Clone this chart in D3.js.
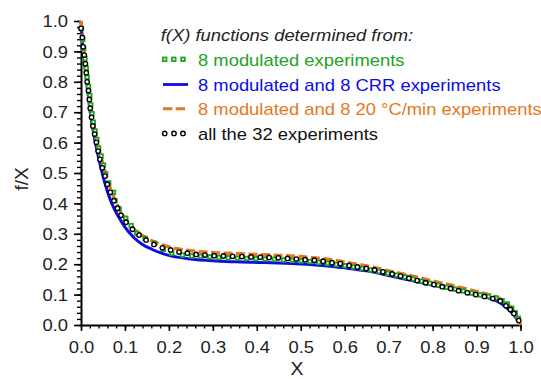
<!DOCTYPE html>
<html>
<head>
<meta charset="utf-8">
<script src="https://cdn.jsdelivr.net/npm/d3@7"></script>
<style>
  body { margin: 0; background: #fff; }
  svg { display: block; font-family: "Liberation Sans", Arial, sans-serif; }
</style>
</head>
<body>
<svg id="chart" width="541" height="379"></svg>
<script>
// f(X) from all the 32 experiments (circles)
const circX = [0.000,0.003,0.005,0.0075,0.010,0.012,0.014,0.017,0.019,0.021,0.024,0.027,0.031,0.035,0.039,0.043,0.0486,0.0547,0.060,0.0668,0.075,0.083,0.091,0.1025,0.117,0.132,0.148,0.166,0.185,0.204,0.223,0.242,0.262,0.282,0.303,0.324,0.345,0.366,0.387,0.408,0.428,0.449,0.470,0.490,0.510,0.531,0.551,0.571,0.590,0.610,0.629,0.649,0.668,0.687,0.708,0.727,0.746,0.765,0.784,0.803,0.822,0.841,0.859,0.879,0.898,0.918,0.937,0.954,0.967,0.977,0.985,0.996];
const circY = [0.976,0.946,0.915,0.888,0.859,0.830,0.800,0.771,0.742,0.713,0.683,0.655,0.628,0.601,0.572,0.545,0.517,0.490,0.463,0.4365,0.409,0.384,0.361,0.338,0.315,0.296,0.280,0.265,0.254,0.247,0.240,0.236,0.232,0.230,0.228,0.227,0.226,0.225,0.224,0.223,0.222,0.221,0.219,0.217,0.215,0.213,0.210,0.205,0.202,0.196,0.191,0.186,0.181,0.175,0.168,0.161,0.154,0.146,0.139,0.133,0.126,0.120,0.113,0.106,0.100,0.094,0.087,0.079,0.063,0.051,0.038,0.015];

// 8 modulated experiments (squares)
const sqX = [0.001,0.004,0.006,0.009,0.012,0.014,0.017,0.020,0.022,0.025,0.028,0.032,0.036,0.040,0.0456,0.051,0.056,0.063,0.0737,0.0774,0.0866,0.1018,0.114,0.127,0.146,0.167,0.1875,0.2065,0.231,0.252,0.272,0.293,0.314,0.335,0.356,0.377,0.398,0.419,0.440,0.461,0.481,0.501,0.521,0.541,0.561,0.581,0.601,0.620,0.640,0.659,0.678,0.698,0.718,0.737,0.756,0.775,0.794,0.813,0.832,0.851,0.870,0.889,0.908,0.927,0.944,0.958,0.970,0.980,0.988,0.995];
const sqY = [0.975,0.940,0.910,0.876,0.845,0.815,0.785,0.755,0.725,0.695,0.667,0.638,0.610,0.582,0.556,0.526,0.497,0.467,0.4365,0.409,0.382,0.351,0.327,0.302,0.285,0.269,0.249,0.236,0.230,0.227,0.226,0.224,0.222,0.221,0.220,0.219,0.218,0.217,0.216,0.214,0.213,0.211,0.209,0.206,0.203,0.199,0.195,0.191,0.186,0.181,0.176,0.170,0.164,0.158,0.151,0.144,0.137,0.131,0.124,0.118,0.112,0.105,0.099,0.094,0.089,0.080,0.069,0.055,0.040,0.022];

// 8 modulated and 8 CRR experiments (solid blue)
const blueX = [0,0.005,0.01,0.02,0.03,0.04,0.05,0.06,0.07,0.08,0.09,0.10,0.12,0.14,0.16,0.18,0.20,0.25,0.30,0.35,0.40,0.45,0.50,0.55,0.60,0.65,0.70,0.75,0.80,0.85,0.90,0.93,0.95,0.97,0.985,1.0];
const blueY = [1.0,0.90,0.84,0.71,0.62,0.55,0.49,0.44,0.40,0.37,0.345,0.322,0.288,0.265,0.250,0.238,0.229,0.217,0.211,0.208,0.206,0.204,0.201,0.196,0.188,0.178,0.163,0.147,0.131,0.116,0.100,0.088,0.076,0.055,0.033,0.0];

// 8 modulated and 8 20 °C/min experiments (dashed orange)
const orangeX = [0,0.005,0.01,0.015,0.02,0.025,0.03,0.04,0.05,0.06,0.07,0.08,0.09,0.10,0.12,0.14,0.16,0.18,0.20,0.25,0.30,0.35,0.40,0.45,0.50,0.55,0.60,0.65,0.70,0.75,0.80,0.85,0.90,0.93,0.95,0.97,0.985,1.0];
const orangeY = [1.0,0.92,0.865,0.80,0.745,0.695,0.65,0.585,0.528,0.478,0.437,0.402,0.374,0.351,0.316,0.294,0.278,0.266,0.257,0.244,0.238,0.235,0.232,0.229,0.225,0.218,0.207,0.194,0.178,0.162,0.145,0.128,0.110,0.099,0.089,0.069,0.042,0.0];

const xTicks = [0,0.1,0.2,0.3,0.4,0.5,0.6,0.7,0.8,0.9,1.0];
const yTicks = [0,0.1,0.2,0.3,0.4,0.5,0.6,0.7,0.8,0.9,1.0];

const legendNames = ["8 modulated experiments", "8 modulated and 8 CRR experiments",
                     "8 modulated and 8 20 °C/min experiments", "all the 32 experiments"];

const green = "#22a322", blue = "#0c0ce8", orange = "#e8771c";
const SX = 1.15; // the picture's text is stretched a bit horizontally

const svg = d3.select("#chart");
svg.append("rect").attr("width", 541).attr("height", 379).attr("fill", "#fff");

const x = d3.scaleLinear().domain([0, 1]).range([81, 520.5]);
const y = d3.scaleLinear().domain([0, 1]).range([325, 21]);

// minor ticks
svg.append("g").attr("transform", "translate(0,325)")
  .call(d3.axisBottom(x).tickValues(d3.range(0, 51).map(i => i / 50)).tickSize(3.5).tickFormat(""))
  .call(g => g.select(".domain").remove())
  .selectAll("line").attr("stroke-width", 1.4);
svg.append("g").attr("transform", "translate(81,0)")
  .call(d3.axisLeft(y).tickValues(d3.range(0, 51).map(i => i / 50)).tickSize(4).tickFormat(""))
  .call(g => g.select(".domain").remove())
  .selectAll("line").attr("stroke-width", 1.4);

// major ticks + labels
const xAxis = svg.append("g").attr("transform", "translate(0,325)")
  .call(d3.axisBottom(x).tickValues(xTicks).tickSize(6).tickSizeOuter(0).tickPadding(11).tickFormat(d3.format(".1f")));
const yAxis = svg.append("g").attr("transform", "translate(81,0)")
  .call(d3.axisLeft(y).tickValues(yTicks).tickSize(7).tickSizeOuter(0).tickFormat(d3.format(".1f")));

[xAxis, yAxis].forEach(a => {
  a.select(".domain").attr("stroke-width", 2);
  a.selectAll(".tick line").attr("stroke-width", 1.6);
  a.selectAll("text").attr("font-size", 16).attr("font-family", "Liberation Sans, Arial, sans-serif")
    .attr("fill", "#222");
});
xAxis.selectAll("text").attr("transform", `scale(${SX},1)`);
yAxis.selectAll("text").attr("x", -13 / SX).attr("dy", "0.36em").attr("transform", `scale(${SX},1)`);

// axis titles
svg.append("text").attr("transform", `translate(297,375) scale(1.08,1)`)
  .attr("text-anchor", "middle").attr("font-size", 18).attr("fill", "#222").text("X");
svg.append("text").attr("transform", "translate(28,179) rotate(-90)")
  .attr("text-anchor", "middle").attr("font-size", 19).attr("fill", "#222").text("f/X");

// curves
const pts = (xs, ys) => xs.map((d, i) => [d, ys[i]]);
const line = d3.line().x(d => x(d[0])).y(d => y(d[1])).curve(d3.curveMonotoneX);

svg.append("path").datum(pts(blueX, blueY)).attr("d", line)
  .attr("fill", "none").attr("stroke", blue).attr("stroke-width", 3);
svg.append("path").datum(pts(orangeX, orangeY)).attr("d", line)
  .attr("fill", "none").attr("stroke", orange).attr("stroke-width", 3.5).attr("stroke-dasharray", "9,3.5");

function squares(g, data) {
  g.selectAll("rect.sq").data(data).enter().append("rect").attr("class", "sq")
    .attr("x", d => d[0] - 1.8).attr("y", d => d[1] - 1.8)
    .attr("width", 3.6).attr("height", 3.6)
    .attr("fill", "#fff").attr("stroke", green).attr("stroke-width", 1.8);
}
function circles(g, data) {
  g.selectAll("circle.c").data(data).enter().append("circle").attr("class", "c")
    .attr("cx", d => d[0]).attr("cy", d => d[1]).attr("r", 2.2)
    .attr("fill", "#fff").attr("stroke", "#000").attr("stroke-width", 1.4);
}

squares(svg.append("g"), pts(sqX, sqY).map(d => [x(d[0]), y(d[1])]));
circles(svg.append("g"), pts(circX, circY).map(d => [x(d[0]), y(d[1])]));

// legend
svg.append("text").attr("transform", `translate(160.7,40.7) scale(${SX},1)`)
  .attr("font-size", 16).attr("font-style", "italic").attr("fill", "#222")
  .text("f(X) functions determined from:");

const rowY = [65.8, 90.5, 115.2, 139.9];
const legendColors = [green, blue, orange, "#111"];
const lg = svg.append("g");
legendNames.forEach((name, i) => {
  lg.append("text").attr("transform", `translate(198,${rowY[i]}) scale(${SX},1)`)
    .attr("font-size", 16).attr("fill", legendColors[i]).text(name);
});
squares(lg, [164.7, 173.8, 183].map(v => [v, rowY[0] - 6.5]));
lg.append("line").attr("x1", 163).attr("x2", 188).attr("y1", rowY[1] - 6).attr("y2", rowY[1] - 6)
  .attr("stroke", blue).attr("stroke-width", 2.8);
lg.append("line").attr("x1", 163).attr("x2", 185).attr("y1", rowY[2] - 6.5).attr("y2", rowY[2] - 6.5)
  .attr("stroke", orange).attr("stroke-width", 3).attr("stroke-dasharray", "9.3,3.4");
circles(lg, [164.7, 174, 183].map(v => [v, rowY[3] - 6.5]));
</script>
</body>
</html>
